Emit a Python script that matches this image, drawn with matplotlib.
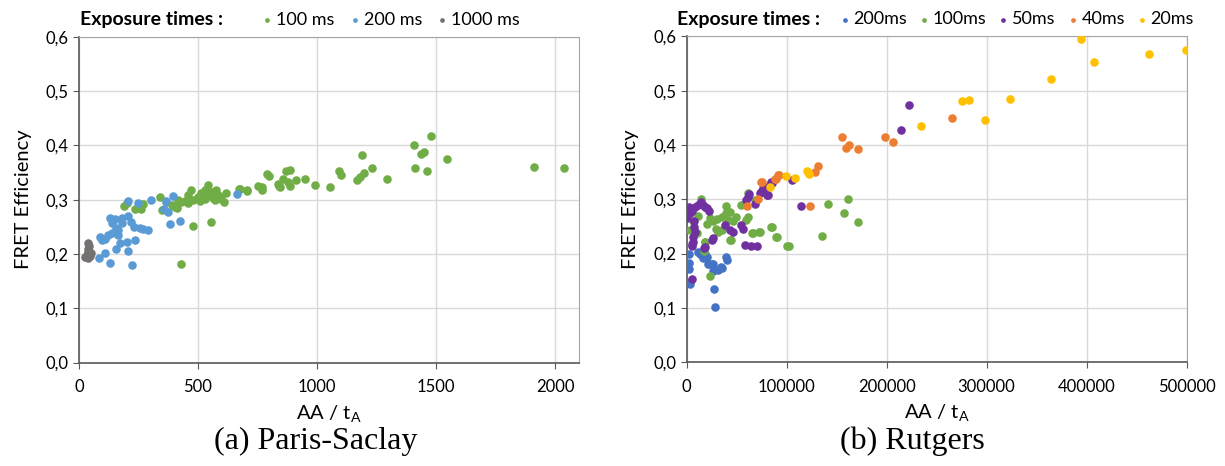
import matplotlib
matplotlib.use("Agg")
import matplotlib.pyplot as plt
from matplotlib.ticker import FuncFormatter, MultipleLocator

plt.rcParams['font.family'] = ['Lato', 'DejaVu Sans']

# ── Paris-Saclay data (AA/tA, FRET efficiency) ───────────────────────────────
ps_100_x = [190, 200, 237, 260, 270, 339, 349, 366, 402, 430, 444, 458, 472, 458,
            514, 507, 528, 542, 556, 563, 577, 584, 598, 609, 619, 672, 705, 479,
            556, 427, 390, 410, 415, 480, 500, 530, 545, 570, 590,
            676, 707, 753, 768, 768, 791, 798, 835, 845, 839, 868, 887, 858, 877,
            887, 911, 951, 993, 1053, 1094, 1100, 1169, 1181, 1197, 1188, 1232,
            1294, 1406, 1436, 1451, 1478, 1410, 1461, 1547, 1912, 2039]
ps_100_y = [0.289, 0.294, 0.282, 0.282, 0.292, 0.305, 0.281, 0.295, 0.287, 0.295,
            0.298, 0.294, 0.318, 0.309, 0.312, 0.298, 0.317, 0.327, 0.315, 0.303,
            0.317, 0.309, 0.301, 0.295, 0.313, 0.320, 0.317, 0.252, 0.258, 0.182,
            0.290, 0.285, 0.300, 0.300, 0.305, 0.302, 0.310, 0.300, 0.305,
            0.320, 0.316, 0.326, 0.323, 0.318, 0.348, 0.343, 0.329, 0.323, 0.326,
            0.352, 0.354, 0.339, 0.332, 0.326, 0.336, 0.339, 0.327, 0.323, 0.352,
            0.345, 0.336, 0.342, 0.349, 0.383, 0.359, 0.339, 0.401, 0.385, 0.387,
            0.418, 0.359, 0.352, 0.375, 0.361, 0.359]

ps_200_x = [204, 246, 302, 366, 395, 358, 374, 381, 423, 664, 130, 151, 179, 207,
            218, 137, 154, 165, 179, 232, 256, 269, 291, 88, 95, 109, 123, 137,
            158, 172, 200, 237, 154, 204, 109, 84, 130, 221, 165]
ps_200_y = [0.297, 0.294, 0.299, 0.298, 0.306, 0.282, 0.278, 0.255, 0.261, 0.311,
            0.266, 0.265, 0.266, 0.270, 0.258, 0.257, 0.247, 0.244, 0.257, 0.249,
            0.247, 0.246, 0.244, 0.231, 0.225, 0.228, 0.235, 0.238, 0.243, 0.221,
            0.222, 0.225, 0.209, 0.206, 0.201, 0.192, 0.184, 0.179, 0.235]

ps_1000_x = [39, 42, 36, 39, 32, 46, 25, 39, 50, 44, 34]
ps_1000_y = [0.221, 0.215, 0.210, 0.204, 0.198, 0.196, 0.195, 0.192, 0.201, 0.199, 0.194]

# ── Rutgers data ─────────────────────────────────────────────────────────────
ru_200_x = [2700, 2700, 2700, 3300, 3300, 27000, 27800, 39000, 40200, 11600, 14900,
            18200, 19900, 16600, 21500, 24800, 26600, 26600, 31300, 35200, 34400,
            13000, 22300]
ru_200_y = [0.199, 0.183, 0.171, 0.148, 0.143, 0.134, 0.101, 0.193, 0.188, 0.203,
            0.197, 0.200, 0.194, 0.191, 0.181, 0.180, 0.180, 0.167, 0.169, 0.173,
            0.175, 0.199, 0.181]

ru_100_x = [13900, 39700, 54000, 61300, 67900, 23200, 26500, 29800, 34800, 39700,
            43000, 41400, 46300, 49700, 59600, 61300, 28800, 31500, 34800, 43700,
            65500, 72200, 84400, 89700, 100000, 18200, 23200, 6600, 3300, 9900,
            141300, 161000, 157300, 171000, 85300, 90300, 135300, 102000, 73300,
            18000, 16800, 44200, 66500, 20000, 11000]
ru_100_y = [0.300, 0.288, 0.290, 0.311, 0.299, 0.265, 0.259, 0.263, 0.268, 0.274,
            0.277, 0.262, 0.259, 0.267, 0.262, 0.268, 0.246, 0.240, 0.243, 0.225,
            0.238, 0.240, 0.249, 0.231, 0.214, 0.222, 0.158, 0.259, 0.243, 0.237,
            0.291, 0.301, 0.275, 0.258, 0.249, 0.231, 0.232, 0.214, 0.240,
            0.221, 0.205, 0.225, 0.237, 0.255, 0.270]

ru_50_x = [84700, 80000, 75500, 73500, 80800, 62200, 61500, 59600, 68200,
           2300, 5000, 8300, 11600, 13900, 15900, 18200, 20500, 21800, 660, 3300,
           7500, 7000, 8000, 6500, 6000, 5500, 4800, 38000, 43000, 46300, 54600,
           56300, 26500, 24800, 17200, 58000, 64600, 70200, 5500, 18000,
           114000, 105300, 85300, 76600, 80000, 74600, 222700, 214100]
ru_50_y = [0.331, 0.322, 0.315, 0.312, 0.307, 0.309, 0.304, 0.299, 0.291,
           0.286, 0.279, 0.286, 0.290, 0.294, 0.290, 0.286, 0.283, 0.279, 0.265,
           0.274, 0.259, 0.249, 0.240, 0.231, 0.222, 0.214, 0.218, 0.252, 0.243,
           0.240, 0.252, 0.246, 0.228, 0.225, 0.211, 0.215, 0.214, 0.214, 0.153,
           0.212, 0.287, 0.335, 0.330, 0.320, 0.308, 0.314, 0.473, 0.428]

ru_40_x = [91400, 88400, 73800, 70800, 60000, 131700, 128700, 92300, 89000, 75300,
           123000, 155800, 159700, 162000, 171400, 198800, 205900, 265800]
ru_40_y = [0.345, 0.337, 0.332, 0.301, 0.288, 0.361, 0.350, 0.345, 0.338, 0.331,
           0.287, 0.414, 0.394, 0.399, 0.392, 0.414, 0.405, 0.450]

ru_20_x = [99300, 82800, 120000, 122000, 108000, 234400, 275000, 282000, 298700,
           323300, 364300, 394000, 407000, 462000, 499300]
ru_20_y = [0.342, 0.322, 0.352, 0.347, 0.339, 0.435, 0.481, 0.482, 0.445,
           0.484, 0.522, 0.595, 0.552, 0.568, 0.574]

GREEN = '#70AD47'
BLUE_L = '#5B9BD5'
GREY = '#767171'
BLUE_R = '#4472C4'
PURPLE = '#7030A0'
ORANGE = '#ED7D31'
YELLOW = '#FFC000'

fig = plt.figure(figsize=(12.25, 4.66), dpi=100)
ax1 = fig.add_axes([0.0645, 0.222, 0.408, 0.699])
ax2 = fig.add_axes([0.5606, 0.223, 0.408, 0.699])

comma = FuncFormatter(lambda v, p: f"{v:.1f}".replace('.', ','))
S = 38

def style(ax):
    ax.set_ylim(0, 0.6)
    ax.yaxis.set_major_locator(MultipleLocator(0.1))
    ax.yaxis.set_major_formatter(comma)
    ax.grid(True, color='#D9D9D9', linewidth=1)
    ax.set_axisbelow(True)
    for side in ['top', 'right']:
        ax.spines[side].set_color('#A6A6A6')
    for side in ['left', 'bottom']:
        ax.spines[side].set_color('#595959')
        ax.spines[side].set_linewidth(1.2)
    ax.tick_params(axis='both', direction='out', length=4, color='#595959',
                   labelsize=12, labelcolor='black')
    ax.tick_params(axis='x', pad=8)
    ax.set_ylabel('FRET Efficiency', fontsize=14.5, labelpad=10)
    ax.set_xlabel(r'AA / t$_\mathregular{A}$', fontsize=14.5, labelpad=6)

# Left panel: Paris-Saclay
ax1.scatter(ps_100_x, ps_100_y, s=S, color=GREEN, lw=0, label='100 ms', zorder=3)
ax1.scatter(ps_200_x, ps_200_y, s=S, color=BLUE_L, lw=0, label='200 ms', zorder=3)
ax1.scatter(ps_1000_x, ps_1000_y, s=S, color=GREY, lw=0, label='1000 ms', zorder=3)
ax1.set_xlim(0, 2100)
ax1.xaxis.set_major_locator(MultipleLocator(500))
style(ax1)

# Right panel: Rutgers
ax2.scatter(ru_200_x, ru_200_y, s=S, color=BLUE_R, lw=0, label='200ms', zorder=3)
ax2.scatter(ru_100_x, ru_100_y, s=S, color=GREEN, lw=0, label='100ms', zorder=3)
ax2.scatter(ru_50_x, ru_50_y, s=S, color=PURPLE, lw=0, label='50ms', zorder=3)
ax2.scatter(ru_40_x, ru_40_y, s=S, color=ORANGE, lw=0, label='40ms', zorder=3)
ax2.scatter(ru_20_x, ru_20_y, s=S, color=YELLOW, lw=0, label='20ms', zorder=3)
ax2.set_xlim(0, 500000)
ax2.xaxis.set_major_locator(MultipleLocator(100000))
ax2.xaxis.set_major_formatter(FuncFormatter(lambda v, p: f"{int(v)}"))
style(ax2)

leg_kw = dict(frameon=False, ncol=5, fontsize=13, handletextpad=0.2,
              handlelength=0.6, markerscale=0.55,
              loc='center left', borderaxespad=0, borderpad=0)
ax1.legend(bbox_to_anchor=(0.365, 1.052), columnspacing=0.83, **leg_kw)
ax2.legend(bbox_to_anchor=(0.305, 1.052), columnspacing=0.62, **leg_kw)

fig.text(80 / 1225, 1 - 20 / 466, 'Exposure times :', fontsize=14,
         fontweight='bold', va='center', ha='left')
fig.text(677 / 1225, 1 - 20 / 466, 'Exposure times :', fontsize=14,
         fontweight='bold', va='center', ha='left')

fig.text(316 / 1225, 1 - 441 / 466, '(a) Paris-Saclay', fontsize=23,
         family='Liberation Serif', ha='center', va='center')
fig.text(912 / 1225, 1 - 441 / 466, '(b) Rutgers', fontsize=23,
         family='Liberation Serif', ha='center', va='center')

fig.savefig('out.png', dpi=100)
